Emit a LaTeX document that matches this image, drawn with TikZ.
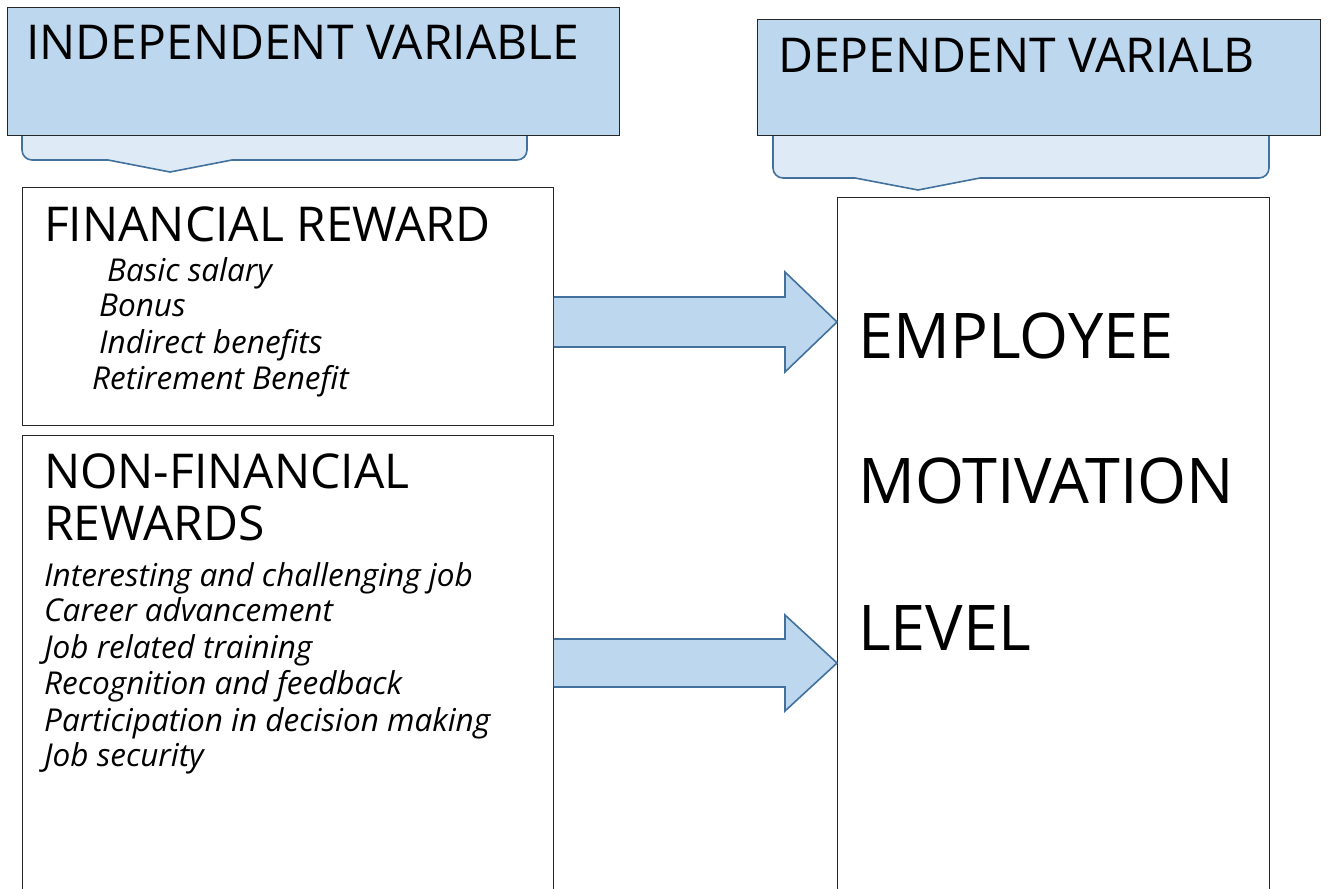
\documentclass[tikz,border=0pt]{standalone}
\usepackage{fontspec}
\setmainfont{Open Sans}
\usetikzlibrary{positioning,calc}
\definecolor{hdrblue}{HTML}{BDD7EE}
\definecolor{tabfill}{HTML}{DEEBF7}
\definecolor{edgeblue}{HTML}{41719C}

\begin{document}
\begin{tikzpicture}[x=1pt,y=-1pt]
\tikzset{hdr/.style={draw=black!85, fill=hdrblue, line width=1pt, anchor=north west, inner sep=0pt},
  box/.style={draw=black!85, line width=0.9pt, anchor=north west, inner sep=0pt},
  tab/.style={draw=edgeblue, fill=tabfill, line width=1.6pt},
  blockarrow/.style={draw=edgeblue, fill=hdrblue, line width=1.6pt},
  hdrtxt/.style={anchor=base west, inner sep=0pt, font=\fontsize{48}{48}\selectfont},
  bigtxt/.style={anchor=base west, inner sep=0pt, font=\fontsize{63}{63}\selectfont},
  item/.style={anchor=base west, inner sep=0pt, font=\itshape\fontsize{31.5}{31.5}\selectfont}}

\useasboundingbox (0,0) rectangle (1329,888);
\clip (0,0) rectangle (1329,888);

% tabs under the headers
\draw [tab] (22,120) [rounded corners=10pt] -- (22,160) [sharp corners] -- (108,160) -- (170,172) -- (232,160)
  [rounded corners=10pt] -- (527,160) -- (527,120);
\draw [tab] (773,120) [rounded corners=10pt] -- (773,178) [sharp corners] -- (855,178) -- (918,190) -- (980,178)
  [rounded corners=10pt] -- (1269,178) -- (1269,120);

\node [hdr, minimum width=612, minimum height=128] (ivhdr) at (7,7) {};
\node [hdr, minimum width=563, minimum height=116] (dvhdr) at (757,19) {};
\node [hdrtxt] (ivtxt) at (26,60) {INDEPENDENT VARIABLE};
\node [hdrtxt] (dvtxt) at (778,73) {DEPENDENT VARIALB};

\node [box, minimum width=531, minimum height=238] (fin) at (22,187) {};
\node [box, minimum width=531, minimum height=470] (nonfin) at (22,435) {};
\node [box, minimum width=432, minimum height=720] (emp) at (837,197) {};

% financial
\node [hdrtxt] (fintxt) at (44,241) {FINANCIAL REWARD};
\node [item] (f1) at (107,281) {Basic salary};
\node [item] (f2) at (99,316) {Bonus};
\node [item] (f3) at (99,353) {Indirect benefits};
\node [item] (f4) at (92,389) {Retirement Benefit};

% non financial
\node [hdrtxt] (nftxt) at (44,488) {NON-FINANCIAL};
\node [hdrtxt] (nftxt2) at (44,540) {REWARDS};
\node [item] (n1) at (44,586) {Interesting and challenging job};
\node [item] (n2) at (44,621) {Career advancement};
\node [item] (n3) at (44,658) {Job related training};
\node [item] (n4) at (44,694) {Recognition and feedback};
\node [item] (n5) at (44,731) {Participation in decision making};
\node [item] (n6) at (44,766) {Job security};

% dependent
\node [bigtxt] (e1) at (858,358) {EMPLOYEE};
\node [bigtxt] (e2) at (858,503) {MOTIVATION};
\node [bigtxt] (e3) at (858,650) {LEVEL};

% block arrows
\coordinate (a1s) at (fin.east |- 0,322);
\coordinate (a1e) at (emp.west |- 0,322);
\coordinate (a2s) at (nonfin.east |- 0,663);
\coordinate (a2e) at (emp.west |- 0,663);
\draw [blockarrow] (a1s) ++(0,-25) -- ($(a1e)+(-52,-25)$) -- ($(a1e)+(-52,-50)$) -- (a1e)
  -- ($(a1e)+(-52,50)$) -- ($(a1e)+(-52,25)$) -- ($(a1s)+(0,25)$);
\draw [blockarrow] (a2s) ++(0,-24) -- ($(a2e)+(-52,-24)$) -- ($(a2e)+(-52,-48)$) -- (a2e)
  -- ($(a2e)+(-52,48)$) -- ($(a2e)+(-52,24)$) -- ($(a2s)+(0,24)$);
\end{tikzpicture}
\end{document}
